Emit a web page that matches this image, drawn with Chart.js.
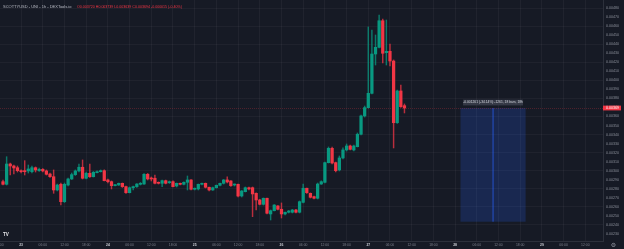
<!DOCTYPE html>
<html><head><meta charset="utf-8">
<script src="https://cdn.jsdelivr.net/npm/chart.js@4.4.1/dist/chart.umd.min.js"></script>
<style>html,body{margin:0;padding:0;background:#161a25;overflow:hidden}</style>
</head><body>
<canvas id="c" width="624" height="249"></canvas>
<script>
// ---------- DATA ----------
const symbolTitle = 'SCOTTYUSD - UNI - 1h - DEXTools.io';
// hourly candles, first candle = 22nd 19:00 (hour index 0)
const opens = [0.002877,0.002848,0.003073,0.003051,0.003032,0.002996,0.002996,0.002996,0.002988,0.003032,
0.002999,0.003014,0.002996,0.002962,0.002932,0.002785,0.002848,0.002655,0.002840,0.002907,
0.002955,0.002996,0.003037,0.002915,0.002970,0.002932,0.002977,0.002988,0.002999,0.002896,
0.002877,0.002833,0.002840,0.002859,0.002822,0.002755,0.002810,0.002822,0.002848,0.002851,
0.002959,0.002915,0.002915,0.002866,0.002859,0.002888,0.002866,0.002877,0.002829,0.002855,
0.002848,0.002870,0.002896,0.002793,0.002796,0.002848,0.002859,0.002815,0.002785,0.002810,
0.002837,0.002859,0.002896,0.002885,0.002840,0.002848,0.002718,0.002766,0.002810,0.002810,
0.002748,0.002674,0.002626,0.002693,0.002519,0.002555,0.002608,0.002571,0.002519,0.002538,
0.002538,0.002563,0.002538,0.002648,0.002804,0.002748,0.002711,0.002693,0.002851,0.002870,
0.003088,0.003247,0.003088,0.003007,0.003140,0.003229,0.003273,0.003229,0.003265,0.003403,
0.003606,0.003698,0.003857,0.004293,0.004367,0.004662,0.004308,0.004323,0.004215,0.003531,
0.003883,0.003720];
const highs = [0.002896,0.003154,0.003084,0.003062,0.003051,0.003007,0.003110,0.003062,0.003051,0.003040,
0.003029,0.003023,0.003007,0.002973,0.003007,0.002851,0.002862,0.002862,0.002918,0.002973,
0.003007,0.003073,0.003118,0.002984,0.003073,0.002990,0.002996,0.003007,0.003007,0.002907,
0.002885,0.002846,0.002862,0.002862,0.002829,0.002818,0.002829,0.002857,0.002868,0.002968,
0.002968,0.002929,0.002951,0.002874,0.002896,0.002896,0.002885,0.002885,0.002862,0.002862,
0.002874,0.002940,0.002901,0.002807,0.002851,0.002862,0.002862,0.002818,0.002818,0.002840,
0.002862,0.002901,0.002932,0.002890,0.002851,0.002851,0.002779,0.002818,0.002818,0.002818,
0.002752,0.002680,0.002696,0.002696,0.002563,0.002624,0.002613,0.002641,0.002541,0.002558,
0.002569,0.002569,0.002663,0.002851,0.002807,0.002752,0.002718,0.002862,0.002885,0.003095,
0.003262,0.003262,0.003095,0.003162,0.003251,0.003295,0.003284,0.003284,0.003417,0.003617,
0.003716,0.004593,0.004559,0.004504,0.004726,0.004681,0.004670,0.004404,0.004227,0.003894,
0.003949,0.003739];
const lows = [0.002840,0.002840,0.002951,0.002962,0.002984,0.002973,0.002951,0.002973,0.002973,0.002984,
0.002990,0.002984,0.002951,0.002923,0.002748,0.002774,0.002618,0.002646,0.002829,0.002901,
0.002946,0.002984,0.002907,0.002907,0.002923,0.002929,0.002973,0.002984,0.002885,0.002862,
0.002796,0.002829,0.002835,0.002813,0.002746,0.002752,0.002785,0.002813,0.002840,0.002846,
0.002896,0.002885,0.002851,0.002851,0.002822,0.002851,0.002857,0.002818,0.002818,0.002840,
0.002840,0.002785,0.002785,0.002785,0.002785,0.002840,0.002807,0.002774,0.002779,0.002807,
0.002829,0.002851,0.002862,0.002824,0.002829,0.002707,0.002707,0.002763,0.002785,0.002489,
0.002563,0.002618,0.002618,0.002519,0.002452,0.002552,0.002563,0.002474,0.002508,0.002530,
0.002530,0.002530,0.002530,0.002641,0.002746,0.002696,0.002685,0.002685,0.002846,0.002862,
0.003084,0.003073,0.002984,0.002996,0.003129,0.003217,0.003229,0.003217,0.003262,0.003395,
0.003594,0.003694,0.003849,0.004171,0.004360,0.004193,0.004171,0.004160,0.003251,0.003522,
0.003700,0.003639];
const closes = [0.002848,0.003073,0.003051,0.003029,0.002999,0.002988,0.002988,0.003018,0.003032,0.003007,
0.003014,0.002996,0.002959,0.002932,0.002785,0.002840,0.002655,0.002848,0.002907,0.002955,
0.002996,0.003037,0.002915,0.002970,0.002932,0.002981,0.002988,0.002999,0.002888,0.002877,
0.002833,0.002840,0.002859,0.002822,0.002755,0.002810,0.002822,0.002851,0.002859,0.002959,
0.002907,0.002907,0.002859,0.002859,0.002888,0.002859,0.002877,0.002822,0.002859,0.002848,
0.002870,0.002896,0.002793,0.002804,0.002848,0.002859,0.002815,0.002785,0.002810,0.002837,
0.002859,0.002896,0.002874,0.002833,0.002848,0.002718,0.002774,0.002810,0.002796,0.002741,
0.002674,0.002626,0.002693,0.002527,0.002555,0.002618,0.002571,0.002519,0.002538,0.002552,
0.002563,0.002538,0.002655,0.002804,0.002755,0.002704,0.002693,0.002851,0.002877,0.003088,
0.003247,0.003084,0.002999,0.003140,0.003229,0.003273,0.003236,0.003273,0.003403,0.003606,
0.003698,0.003857,0.004293,0.004367,0.004662,0.004301,0.004323,0.004215,0.003531,0.003883,
0.003709,0.003694];
const xTickLabels = ['18:00','23','06:00','12:00','18:00','24','06:00','12:00','18:00','25','06:00','12:00','18:00',
  '26','06:00','12:00','18:00','27','06:00','12:00','18:00','28','06:00','12:00','18:00','29','06:00','12:00'];
const firstTickHour = -1, tickStepHours = 6;
const yTickValues = [0.0023,0.0024,0.0025,0.0026,0.0027,0.0028,0.0029,0.0030,0.0031,0.0032,0.0033,0.0034,0.0035,
  0.0036,0.0037,0.0038,0.0039,0.0040,0.0041,0.0042,0.0043,0.0044,0.0045,0.0046,0.0047,0.0048];
const viewHours = [-0.83, 165.9];
const viewPrices = [0.002219, 0.004892];
// price-range measurement drawn on the chart
const rangeHours = [126.5, 144.5];
const rangePrices = [0.002433, 0.003694];
const rangeText = '-0.001261 (-34.14%) -1261, 18 bars, 18h';

// ---------- STYLE ----------
const BG = '#161a25', UP = '#089981', DOWN = '#f23645';
const FONT = "'Liberation Sans', Arial, sans-serif";

const n = opens.length;
const last = n - 1;
const isUp = i => closes[i] >= opens[i];
const bodies = opens.map((o, i) => ({x: i, y: [o, closes[i]]}));
const wicks = opens.map((o, i) => ({x: i, y: [lows[i], highs[i]]}));
const bodyColors = opens.map((o, i) => isUp(i) ? UP : DOWN);
const wickColors = opens.map((o, i) => isUp(i) ? 'rgba(8,153,129,0.75)' : 'rgba(242,54,69,0.75)');

const fmt = v => v.toFixed(6);

const overlay = {
  id: 'overlay',
  beforeDraw(chart) {
    const c = chart.ctx;
    c.save(); c.fillStyle = BG; c.fillRect(0, 0, chart.width, chart.height); c.restore();
  },
  beforeDatasetsDraw(chart) {
    const c = chart.ctx, xs = chart.scales.x, ys = chart.scales.y, a = chart.chartArea;
    c.save();
    const x1 = xs.getPixelForValue(rangeHours[0]), x2 = xs.getPixelForValue(rangeHours[1]);
    const y1 = ys.getPixelForValue(rangePrices[1]), y2 = ys.getPixelForValue(rangePrices[0]);
    c.fillStyle = 'rgba(41,98,255,0.2)';
    c.fillRect(x1, y1, x2 - x1, y2 - y1);
    const xm = xs.getPixelForValue((rangeHours[0] + rangeHours[1]) / 2);
    c.strokeStyle = 'rgba(41,98,255,0.7)'; c.lineWidth = 1;
    c.beginPath(); c.moveTo(xm, y1); c.lineTo(xm, y2); c.stroke();
    const yp = Math.round(ys.getPixelForValue(closes[last])) + 0.5;
    c.strokeStyle = 'rgba(242,54,69,0.25)'; c.setLineDash([1, 1]);
    c.beginPath(); c.moveTo(a.left, yp); c.lineTo(a.right, yp); c.stroke();
    c.restore();
  },
  afterDraw(chart) {
    const c = chart.ctx, xs = chart.scales.x, ys = chart.scales.y, a = chart.chartArea;
    c.save();
    c.textBaseline = 'middle';
    c.font = `4px ${FONT}`;
    c.fillStyle = '#b8bbc4';
    c.fillText(symbolTitle, 3, 7);
    const chg = closes[last] - closes[last - 1];
    const pct = chg / closes[last - 1] * 100;
    const ohlc = `O${fmt(opens[last])} H${fmt(highs[last])} L${fmt(lows[last])} C${fmt(closes[last])} ${chg.toFixed(6)} (${pct.toFixed(2)}%)`;
    c.fillStyle = DOWN; c.font = `3.6px ${FONT}`;
    c.fillText(ohlc, 77, 7);
    const x1 = xs.getPixelForValue(rangeHours[0]), x2 = xs.getPixelForValue(rangeHours[1]);
    const yTop = ys.getPixelForValue(rangePrices[1]);
    const xm = (x1 + x2) / 2;
    c.fillStyle = 'rgba(55,59,72,0.95)';
    c.fillRect(xm - 30, yTop - 8.4, 60, 5.8);
    c.fillStyle = '#d1d4dc'; c.font = `3.3px ${FONT}`; c.textAlign = 'center';
    c.fillText(rangeText, xm, yTop - 5.5);
    const yp = ys.getPixelForValue(closes[last]);
    c.fillStyle = DOWN;
    c.fillRect(a.right, yp - 2.4, 18, 4.8);
    c.fillStyle = '#ffffff'; c.textAlign = 'left'; c.font = `3.6px ${FONT}`;
    c.fillText(closes[last].toFixed(5), a.right + 3, yp + 0.1);
    c.font = `bold 4.6px ${FONT}`; c.fillStyle = '#e8e8ec';
    c.fillText('TV', 3, 235.2);
    c.font = `6px 'DejaVu Sans'`; c.fillStyle = '#8b8f9a'; c.textAlign = 'center';
    c.fillText('\u2699', 613.5, 245);
    c.restore();
  }
};

new Chart(document.getElementById('c'), {
  type: 'bar',
  data: {
    datasets: [
      {label: 'body', data: bodies, backgroundColor: bodyColors, barThickness: 2.6, grouped: false, order: 1, minBarLength: 1},
      {label: 'wick', data: wicks, backgroundColor: wickColors, barThickness: 0.8, grouped: false, order: 2}
    ]
  },
  options: {
    responsive: false, animation: false, devicePixelRatio: 1,
    layout: {padding: 0},
    plugins: {legend: {display: false}, tooltip: {enabled: false}},
    scales: {
      x: {
        type: 'linear', min: viewHours[0], max: viewHours[1], offset: false,
        afterFit(s) { s.height = 8; s.paddingLeft = 0; s.paddingRight = 0; },
        afterBuildTicks(s) { s.ticks = xTickLabels.map((l, k) => ({value: firstTickHour + k * tickStepHours})); },
        ticks: {
          autoSkip: false, maxRotation: 0, minRotation: 0, padding: 2,
          callback: (v, idx) => xTickLabels[idx],
          color: ctx => xTickLabels[ctx.index] && xTickLabels[ctx.index].includes(':') ? '#7d818c' : '#c9ccd3',
          font: ctx => ({family: FONT, size: 3.4, weight: xTickLabels[ctx.index] && xTickLabels[ctx.index].includes(':') ? 'normal' : 'bold'})
        },
        grid: {color: 'rgba(255,255,255,0.045)', drawTicks: false, offset: false},
        border: {color: '#2c303b'}
      },
      y: {
        position: 'right', min: viewPrices[0], max: viewPrices[1],
        afterFit(s) { s.width = 21; s.paddingTop = 0; s.paddingBottom = 0; },
        afterBuildTicks(s) { s.ticks = yTickValues.map(v => ({value: v})); },
        ticks: {
          padding: 3, color: '#8b8f9a', font: {family: FONT, size: 3.6},
          callback: v => Number(v).toFixed(5)
        },
        grid: {color: ctx => ctx.index % 2 === 1 ? 'rgba(255,255,255,0.04)' : 'rgba(0,0,0,0)', drawTicks: false},
        border: {color: '#2c303b'}
      }
    }
  },
  plugins: [overlay]
});
</script>
</body></html>
